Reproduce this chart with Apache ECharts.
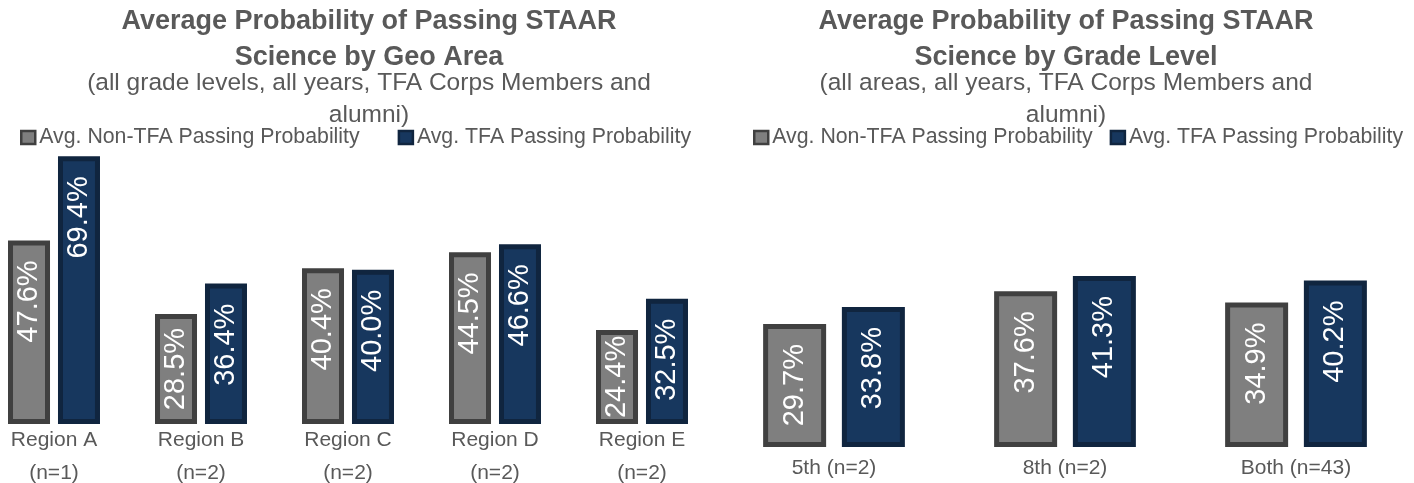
<!DOCTYPE html>
<html>
<head>
<meta charset="utf-8">
<script src="https://cdn.jsdelivr.net/npm/echarts@6/dist/echarts.min.js"></script>
<style>
  html, body { margin: 0; padding: 0; background: #fff; }
  #chart { width: 1414px; height: 483px; }
</style>
</head>
<body>
<div id="chart"></div>
<script>
const seriesNames = ['Avg. Non-TFA Passing Probability', 'Avg. TFA Passing Probability'];

const geoAreas = ['Region A\n(n=1)', 'Region B\n(n=2)', 'Region C\n(n=2)', 'Region D\n(n=2)', 'Region E\n(n=2)'];
const geoNonTfa = [47.6, 28.5, 40.4, 44.5, 24.4];
const geoTfa = [69.4, 36.4, 40.0, 46.6, 32.5];

const gradeLevels = ['5th (n=2)', '8th (n=2)', 'Both (n=43)'];
const gradeNonTfa = [29.7, 37.6, 34.9];
const gradeTfa = [33.8, 41.3, 40.2];

const FONT = 'Liberation Sans, Arial, sans-serif';
const TEXT = '#595959';
const GRAY = { color: '#7F7F7F', borderColor: '#404040', borderWidth: 5 };
const NAVY = { color: '#17375E', borderColor: '#10253F', borderWidth: 5 };

const leftGrid = { left: -19.5, width: 735, top: 154, height: 270, max: 70 };
const rightGrid = { left: 718.5, width: 693, top: 240, height: 207, max: 50 };

// short bars get the label centred instead of pinned to the top
function barData(values, g) {
  return values.map(v => {
    const px = v / g.max * g.height;
    if (px < 116) {
      return { value: v, label: { position: 'inside', align: 'center', verticalAlign: 'middle' } };
    }
    return v;
  });
}

const valueLabel = {
  show: true,
  position: 'insideTop',
  rotate: 90,
  align: 'right',
  verticalAlign: 'middle',
  distance: 20,
  color: '#fff',
  fontSize: 29,
  fontFamily: FONT,
  formatter: p => p.value.toFixed(1) + '%'
};

function barSeries(name, values, g, style, axis, barWidth, barGap) {
  return {
    type: 'bar',
    name: name,
    xAxisIndex: axis,
    yAxisIndex: axis,
    data: barData(values, g),
    barWidth: barWidth,
    barGap: barGap,
    itemStyle: style,
    label: valueLabel,
    emphasis: { disabled: true }
  };
}

function titleText(x, title, sub) {
  return [
    {
      type: 'text', x: x, y: 4,
      style: {
        text: title, fill: TEXT, font: 'bold 27px ' + FONT,
        align: 'center', textAlign: 'center', verticalAlign: 'top', textVerticalAlign: 'top',
        lineHeight: 36
      }
    },
    {
      type: 'text', x: x, y: 67,
      style: {
        text: sub, fill: TEXT, font: '24.5px ' + FONT,
        align: 'center', textAlign: 'center', verticalAlign: 'top', textVerticalAlign: 'top',
        lineHeight: 32
      }
    }
  ];
}

const legendBase = {
  data: seriesNames,
  top: 127,
  padding: 0,
  icon: 'rect',
  itemWidth: 14,
  itemHeight: 13,
  itemStyle: { borderWidth: 2.5 },
  textStyle: { color: TEXT, fontSize: 21.3, fontFamily: FONT, padding: [0, 0, 0, -1] },
  selectedMode: false
};

const chart = echarts.init(document.getElementById('chart'));
chart.setOption({
  animation: false,
  backgroundColor: '#fff',
  graphic: [].concat(
    titleText(369, 'Average Probability of Passing STAAR\nScience by Geo Area',
      '(all grade levels, all years, TFA Corps Members and\nalumni)'),
    titleText(1066, 'Average Probability of Passing STAAR\nScience by Grade Level',
      '(all areas, all years, TFA Corps Members and\nalumni)')
  ),
  legend: [
    Object.assign({}, legendBase, { left: 20, itemGap: 38 }),
    Object.assign({}, legendBase, { left: 753, itemGap: 17 })
  ],
  grid: [
    { left: leftGrid.left, width: leftGrid.width, top: leftGrid.top, height: leftGrid.height, outerBoundsMode: 'none', containLabel: false },
    { left: rightGrid.left, width: rightGrid.width, top: rightGrid.top, height: rightGrid.height, outerBoundsMode: 'none', containLabel: false }
  ],
  xAxis: [
    {
      type: 'category', gridIndex: 0, data: geoAreas,
      axisLine: { show: false }, axisTick: { show: false },
      axisLabel: { color: TEXT, fontSize: 21, fontFamily: FONT, lineHeight: 33, margin: 0, interval: 0 }
    },
    {
      type: 'category', gridIndex: 1, data: gradeLevels,
      axisLine: { show: false }, axisTick: { show: false },
      axisLabel: { color: TEXT, fontSize: 21, fontFamily: FONT, lineHeight: 22, margin: 10, interval: 0 }
    }
  ],
  yAxis: [
    { type: 'value', gridIndex: 0, min: 0, max: leftGrid.max, show: false, splitLine: { show: false } },
    { type: 'value', gridIndex: 1, min: 0, max: rightGrid.max, show: false, splitLine: { show: false } }
  ],
  series: [
    barSeries(seriesNames[0], geoNonTfa, leftGrid, GRAY, 0, 42, '19%'),
    barSeries(seriesNames[1], geoTfa, leftGrid, NAVY, 0, 42, '19%'),
    barSeries(seriesNames[0], gradeNonTfa, rightGrid, GRAY, 1, 63, '25%'),
    barSeries(seriesNames[1], gradeTfa, rightGrid, NAVY, 1, 63, '25%')
  ]
});
</script>
</body>
</html>
